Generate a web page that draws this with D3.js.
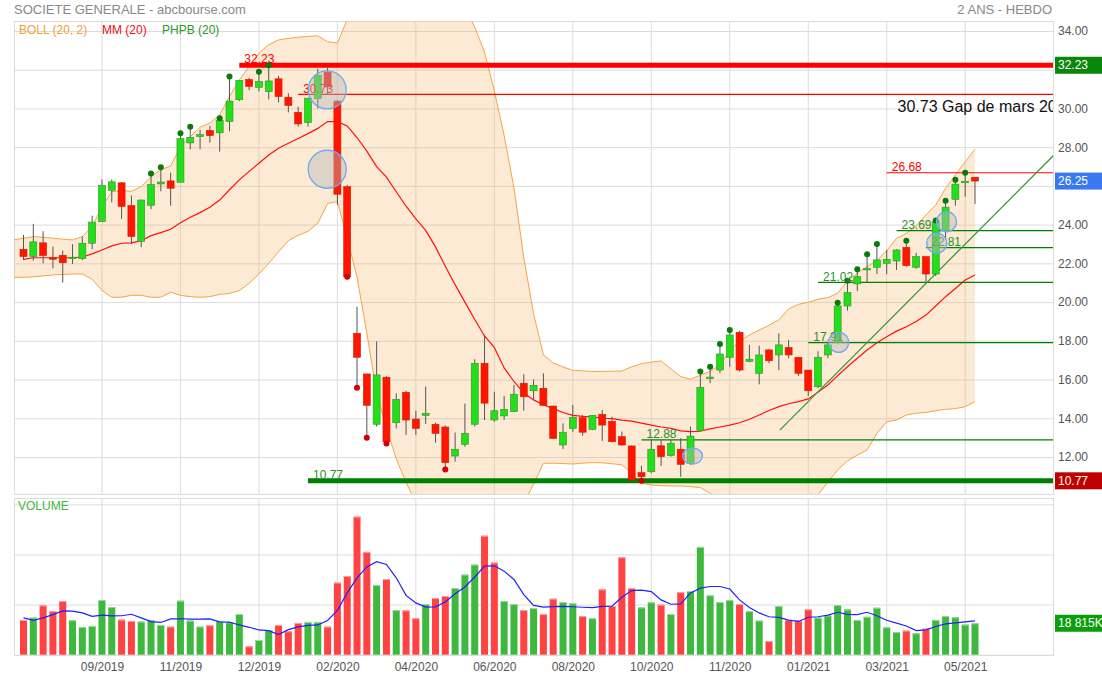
<!DOCTYPE html>
<html>
<head>
<meta charset="utf-8">
<script src="https://cdn.jsdelivr.net/npm/d3@7"></script>
<style>
  body { margin: 0; background: #fff; }
  svg { display: block; }
</style>
</head>
<body>
<svg id="chart" width="1102" height="677"></svg>
<script>
/* SOCIETE GENERALE - weekly candles, 2 years (abcbourse style) */

// ============================================
// Data (weekly bars, index 0 = first week shown)
// ============================================

const opens = [
  22.73, 22.35, 23.06, 22.29, 22.42, 22.30, 22.24, 23.04, 24.16, 25.77,
  26.16, 24.98, 23.14, 25.00, 26.10, 26.26, 26.19, 28.22, 28.55, 28.87,
  28.74, 29.32, 30.45, 31.50, 31.09, 30.87, 31.53, 30.58, 29.80, 29.27,
  30.51, 31.88, 30.38, 25.96, 18.39, 16.29, 13.69, 16.12, 13.77, 15.34,
  13.96, 14.15, 13.69, 13.55, 12.05, 12.65, 13.69, 16.84, 13.91, 14.12,
  14.34, 15.81, 15.42, 15.55, 14.63, 12.62, 13.48, 14.03, 13.43, 14.20,
  13.84, 13.05, 12.57, 11.19, 11.24, 12.58, 12.07, 12.40, 11.67, 13.36,
  16.06, 16.49, 17.15, 18.44, 16.94, 16.32, 17.53, 17.27, 17.66, 17.15,
  16.49, 15.63, 17.27, 17.91, 19.80, 20.94, 21.66, 21.80, 22.00, 22.12,
  22.83, 21.80, 22.35, 21.45, 23.69, 25.31, 26.19, 26.45
];
const highs = [
  23.47, 24.04, 23.66, 22.87, 22.66, 22.99, 23.39, 24.46, 26.33, 26.33,
  26.20, 25.50, 25.30, 26.64, 26.97, 26.68, 28.72, 29.06, 28.89, 29.10,
  29.50, 31.65, 31.45, 31.59, 31.90, 32.23, 31.68, 30.79, 30.09, 30.55,
  32.05, 32.14, 30.43, 26.05, 19.76, 16.29, 17.97, 16.17, 15.29, 15.42,
  14.39, 15.64, 13.77, 13.63, 13.26, 14.76, 17.05, 18.31, 15.37, 15.15,
  15.72, 16.27, 16.01, 16.32, 14.65, 13.74, 14.69, 14.17, 14.17, 14.43,
  14.08, 13.31, 12.60, 11.55, 12.88, 12.88, 12.88, 12.97, 13.57, 16.41,
  16.66, 17.84, 18.56, 18.52, 17.79, 17.75, 17.56, 18.39, 18.04, 17.15,
  16.49, 17.46, 17.95, 19.97, 21.10, 21.69, 22.47, 23.00, 22.69, 22.73,
  23.17, 22.55, 22.35, 24.21, 25.24, 26.32, 26.68, 26.45
];
const lows = [
  22.17, 22.14, 22.00, 21.74, 21.01, 21.97, 22.17, 22.73, 24.16, 25.15,
  24.29, 23.00, 22.83, 24.80, 25.72, 24.98, 26.19, 27.89, 27.89, 28.23,
  27.77, 28.82, 30.38, 30.94, 30.88, 30.47, 30.32, 29.80, 29.06, 29.06,
  30.00, 30.73, 25.02, 21.31, 15.58, 13.00, 13.57, 12.70, 13.48, 13.14,
  13.14, 13.70, 12.74, 11.36, 11.76, 12.53, 13.57, 13.91, 13.82, 13.91,
  14.34, 14.39, 14.98, 14.63, 12.95, 12.41, 13.31, 13.10, 13.39, 12.83,
  12.75, 12.58, 10.80, 10.77, 11.16, 11.54, 12.02, 10.98, 11.59, 13.36,
  15.81, 16.34, 16.66, 16.41, 16.89, 15.75, 16.84, 16.49, 17.10, 16.18,
  15.15, 15.55, 17.10, 17.87, 19.56, 20.57, 21.02, 21.45, 21.45, 21.66,
  21.83, 21.71, 21.05, 21.35, 23.21, 24.98, 25.44, 25.07
];
const closes = [
  22.35, 23.11, 22.40, 22.24, 22.03, 22.32, 23.04, 24.13, 26.02, 26.21,
  24.94, 23.39, 25.27, 26.07, 26.20, 25.88, 28.44, 28.51, 28.65, 28.60,
  29.39, 30.38, 31.45, 31.14, 31.40, 31.42, 30.62, 30.15, 29.20, 30.53,
  31.71, 31.11, 25.57, 21.31, 17.15, 14.67, 16.24, 12.79, 14.98, 13.91,
  13.48, 14.26, 13.22, 11.71, 12.40, 13.22, 16.84, 14.78, 14.39, 14.46,
  15.24, 15.11, 15.70, 14.67, 12.96, 13.28, 14.05, 13.28, 14.15, 13.65,
  12.79, 12.62, 10.81, 10.98, 12.40, 12.02, 12.71, 11.62, 13.08, 15.60,
  16.13, 17.32, 18.30, 16.49, 17.05, 17.27, 16.97, 17.79, 17.27, 16.32,
  15.42, 17.15, 17.79, 19.80, 20.50, 21.31, 21.74, 22.18, 22.21, 22.69,
  21.88, 22.35, 21.45, 24.15, 24.90, 26.09, 26.24, 26.25
];

// Volume in millions
const volumes = [
  20.8, 22.2, 29.5, 26.1, 32.1, 20.6, 16.6, 17.2, 32.7, 28.5,
  21.0, 20.2, 19.8, 20.8, 17.8, 16.8, 32.3, 20.4, 16.8, 17.6,
  20.2, 19.4, 24.3, 5.0, 8.8, 14.8, 17.8, 14.0, 19.0, 19.6,
  19.6, 16.8, 43.1, 47.1, 82.6, 61.5, 41.7, 45.3, 26.7, 26.5,
  21.8, 30.3, 33.9, 35.1, 39.9, 47.9, 53.9, 71.2, 55.1, 32.1,
  30.3, 26.7, 27.9, 24.3, 33.5, 31.5, 30.7, 23.1, 21.8, 39.1,
  29.1, 58.3, 39.9, 28.3, 31.3, 29.9, 24.3, 37.5, 38.1, 64.5,
  35.5, 31.5, 32.7, 30.3, 26.1, 20.4, 8.2, 29.1, 20.8, 20.4,
  27.1, 22.2, 23.5, 29.7, 27.1, 20.8, 22.7, 28.1, 16.4, 13.6,
  14.4, 12.8, 15.6, 20.8, 23.1, 22.4, 18.0, 18.8
];
// Volume moving average (blue line), millions
const volAvg = [
  22.0, 20.5, 22.0, 24.0, 26.2, 26.1, 25.0, 23.0, 23.7, 23.2,
  23.3, 24.2, 22.0, 19.8, 19.3, 21.4, 21.5, 21.3, 21.3, 21.4,
  19.6, 19.5, 17.8, 16.4, 14.8, 14.4, 12.0, 15.0, 16.6, 17.6,
  17.8, 20.5, 26.5, 37.0, 46.0, 52.5, 55.7, 54.0, 46.0, 35.5,
  31.0, 28.5, 28.6, 31.5, 36.5, 40.5, 46.5, 53.0, 53.2, 50.0,
  45.0, 36.0, 29.5, 28.5, 28.8, 28.9, 28.7, 28.4, 28.2, 28.9,
  29.0, 34.4, 38.4, 38.6, 37.8, 32.8, 30.2, 30.4, 37.0, 39.8,
  40.8, 40.8, 39.3, 32.8, 28.3, 25.0, 22.7, 22.3, 20.7, 19.9,
  22.4, 22.7, 23.7, 25.4, 24.1, 24.0, 25.4, 23.3, 20.6, 18.9,
  17.2, 14.4, 14.9, 16.9, 18.4, 19.0, 19.6, 20.2
];

// MM (20)
const mm20 = [
  22.21, 22.29, 22.29, 22.29, 22.29, 22.29, 22.33, 22.49, 22.69, 22.90,
  23.04, 23.06, 23.17, 23.43, 23.59, 23.76, 24.10, 24.38, 24.62, 24.90,
  25.27, 25.80, 26.31, 26.75, 27.17, 27.60, 27.95, 28.20, 28.45, 28.70,
  28.97, 29.32, 29.32, 29.10, 28.50, 27.80, 27.00, 26.45, 25.70, 24.95,
  24.30, 23.70, 22.85, 21.85, 20.90, 20.00, 19.10, 18.25, 17.65, 16.60,
  15.90, 15.30, 14.95, 14.70, 14.50, 14.30, 14.15, 14.10, 14.08, 14.00,
  13.98, 13.90, 13.85, 13.75, 13.65, 13.55, 13.48, 13.35, 13.31, 13.33,
  13.45, 13.55, 13.65, 13.77, 13.95, 14.17, 14.40, 14.60, 14.75, 14.86,
  15.00, 15.35, 15.72, 16.20, 16.66, 17.10, 17.53, 17.90, 18.21, 18.50,
  18.73, 19.00, 19.33, 19.80, 20.28, 20.70, 21.14, 21.40
];

// BOLL (20, 2) - first value is the week before index 0 (left edge)
const bollUpper = [
  23.21,
  23.30, 23.38, 23.35, 23.30, 23.25, 23.21, 23.38, 23.90, 24.93, 25.70,
  25.76, 25.72, 25.96, 26.48, 26.83, 27.03, 28.03, 28.54, 29.03, 29.24,
  29.67, 30.61, 31.47, 32.16, 32.85, 33.30, 33.54, 33.62, 33.68, 33.72,
  33.75, 33.45, 33.37, 34.60, 35.60, 36.40, 36.90, 37.20, 37.40, 37.50,
  37.50, 37.30, 37.00, 36.60, 36.00, 35.20, 34.20, 32.90, 30.90, 28.60,
  25.90, 22.30, 19.40, 17.27, 16.86, 16.65, 16.48, 16.45, 16.42, 16.42,
  16.43, 16.44, 16.66, 16.82, 16.90, 16.96, 16.55, 16.15, 16.02, 16.22,
  16.42, 16.75, 17.50, 18.00, 18.30, 18.56, 18.80, 19.08, 19.65, 19.88,
  19.99, 20.15, 20.23, 20.46, 21.10, 21.50, 21.83, 22.14, 22.66, 23.29,
  23.55, 23.93, 24.50, 25.02, 25.88, 26.57, 27.25, 27.89
];
const bollLower = [
  21.28,
  21.28, 21.30, 21.35, 21.40, 21.43, 21.45, 21.45, 21.18, 20.60, 20.25,
  20.25, 20.35, 20.35, 20.25, 20.25, 20.51, 20.35, 20.28, 20.25, 20.28,
  20.40, 20.45, 20.59, 20.97, 21.45, 22.00, 22.60, 23.17, 23.45, 23.65,
  24.07, 25.10, 25.19, 23.30, 21.30, 18.40, 15.30, 13.50, 11.90, 10.70,
  9.60, 8.80, 8.20, 7.80, 7.50, 7.40, 7.40, 7.50, 7.80, 8.30,
  8.90, 9.60, 10.60, 11.67, 11.68, 11.66, 11.64, 11.68, 11.71, 11.70,
  11.65, 11.60, 11.16, 10.64, 10.55, 10.52, 10.50, 10.50, 10.47, 10.42,
  10.12, 9.80, 9.50, 9.30, 9.20, 9.10, 9.10, 9.20, 9.40, 9.60,
  9.85, 10.05, 10.70, 11.33, 11.80, 12.10, 12.36, 13.22, 13.82, 13.91,
  14.17, 14.26, 14.30, 14.39, 14.46, 14.50, 14.60, 14.86
];

// PHPB (20) markers: new highs / new lows
const phpbHighIdx = [13, 14, 16, 17, 20, 21, 24, 25, 69, 70, 71, 72, 83, 84, 85, 86, 87, 90, 93, 94, 95, 96];
const phpbLowIdx = [33, 34, 35, 37, 43, 63];

// Horizontal levels drawn by the user
const levelValues = [32.23, 30.73, 26.68, 23.69, 22.81, 21.02, 17.91, 12.88, 10.77];
const levelStartIdx = [22, 28, 88, 89, 92, 81, 80, 63, 29];
const levelKind = ['top', 'gap', 'resist', 'support', 'support', 'support', 'support', 'support', 'bottom'];

// Trend line (bar index, price)
const trendIdx = [77.1, 105.06];
const trendPrice = [13.39, 27.6];

// Highlight circles (bar index, price)
const circleIdx = [30.96, 30.96, 68.2, 83.1, 94.1, 93.1];
const circlePrice = [30.96, 26.86, 12.05, 17.92, 24.15, 23.04];
const circleKind = ['big', 'big', 'flat', 'small', 'small', 'small'];

// Note
const noteText = '30.73 Gap de mars 2020';
const noteIdx = 89.1;
const notePrice = 29.8;

// Axes
const priceTicks = [12, 14, 16, 18, 20, 22, 24, 26, 28, 30, 32, 34];
const volTicks = [0, 30, 60, 90];
const volTickLabels = ['0.0000M', '30.00M', '60.00M', '90.00M'];
const gridIdx = [8, 16, 24, 32, 40, 48, 56, 64, 72, 80, 88, 96];
const monthLabels = ['09/2019', '11/2019', '12/2019', '02/2020', '04/2020', '06/2020',
  '08/2020', '10/2020', '11/2020', '01/2021', '03/2021', '05/2021'];

// Right axis marks
const markValues = [32.23, 26.25, 10.77];
const markKind = ['top', 'last', 'bottom'];
const lastVolume = 18.815;
const lastVolumeLabel = '18 815K';

// ============================================
// Layout
// ============================================

const FONT = '"Liberation Sans", Arial, Helvetica, sans-serif';
const PL = 14, PR = 1053, PT = 21, PB = 494, VT = 498, VB = 655;

const colors = {
  grid: '#dcdcdc',
  axisText: '#555',
  up: '#22df1a', upEdge: '#3a8f2c',
  down: '#ff1500', downEdge: '#cc2000',
  wick: '#555',
  volUp: '#3fb83f', volDown: '#ff4343',
  volUpTop: '#9bdc9b', volDownTop: '#ffa0a0',
  boll: '#f6a444', bollFill: 'rgba(248,180,100,0.28)',
  mm: '#ff1010',
  red: '#ff0000', green: '#008000', greenText: '#2a8f2a',
  dotUp: '#0a7a0a', dotDown: '#d00000'
};

const x = d3.scaleLinear().domain([0, 97]).range([23.5, 975]);
const y = d3.scaleLinear().domain([12, 34]).range([457, 31]);
const yv = d3.scaleLinear().domain([0, 90]).range([654.7, 504.3]);

const svg = d3.select('#chart').attr('font-family', FONT);
const defs = svg.append('defs');
defs.append('clipPath').attr('id', 'clipPrice')
  .append('rect').attr('x', PL).attr('y', PT).attr('width', PR - PL).attr('height', PB - PT);
defs.append('clipPath').attr('id', 'clipVol')
  .append('rect').attr('x', PL).attr('y', VT).attr('width', PR - PL).attr('height', VB - VT);
defs.append('clipPath').attr('id', 'clipVolAxis')
  .append('rect').attr('x', PR).attr('y', VT).attr('width', 60).attr('height', VB - VT + 2);

// ============================================
// Header
// ============================================

svg.append('text').attr('x', 14).attr('y', 13.5)
  .attr('fill', '#888').style('font-size', '13px')
  .text('SOCIETE GENERALE - abcbourse.com');
svg.append('text').attr('x', 1052).attr('y', 13.5).attr('text-anchor', 'end')
  .attr('fill', '#888').style('font-size', '13px')
  .text('2 ANS - HEBDO');

// ============================================
// Grid + axes
// ============================================

// tick labels hidden under a coloured mark box are not drawn
const covered = v => markValues.some(m => Math.abs(y(m) - y(v)) < 12);

const gPrice = svg.append('g').attr('transform', `translate(${PR},0)`)
  .call(d3.axisRight(y).tickValues(priceTicks)
    .tickFormat(d => covered(d) ? '' : d3.format('.2f')(d))
    .tickSize(-(PR - PL)).tickPadding(5));
gPrice.select('.domain').remove();
gPrice.selectAll('line').attr('stroke', colors.grid);
gPrice.attr('font-family', FONT).attr('font-size', 12);
gPrice.selectAll('text').attr('fill', colors.axisText);

const gVol = svg.append('g').attr('transform', `translate(${PR},0)`)
  .call(d3.axisRight(yv).tickValues(volTicks).tickFormat((d, i) => volTickLabels[i])
    .tickSize(-(PR - PL)).tickPadding(5));
gVol.select('.domain').remove();
gVol.selectAll('line').attr('stroke', colors.grid);
gVol.attr('font-family', FONT).attr('font-size', 12);
gVol.selectAll('text').attr('fill', colors.axisText).attr('clip-path', 'url(#clipVolAxis)');

const gV = svg.append('g').attr('stroke', colors.grid);
gV.selectAll('line.p').data(gridIdx).join('line').attr('class', 'p')
  .attr('x1', d => x(d)).attr('x2', d => x(d)).attr('y1', PT).attr('y2', PB);
gV.selectAll('line.v').data(gridIdx).join('line').attr('class', 'v')
  .attr('x1', d => x(d)).attr('x2', d => x(d)).attr('y1', VT).attr('y2', VB);

const gX = svg.append('g').attr('transform', `translate(0,${VB})`)
  .call(d3.axisBottom(x).tickValues(gridIdx).tickFormat((d, i) => monthLabels[i])
    .tickSize(0).tickPadding(7.5));
gX.select('.domain').remove();
gX.attr('font-family', FONT).attr('font-size', 12);
gX.selectAll('text').attr('fill', colors.axisText);

// panel frames
svg.append('rect').attr('x', PL + 0.5).attr('y', PT + 0.5).attr('width', PR - PL).attr('height', PB - PT)
  .attr('fill', 'none').attr('stroke', colors.grid);
svg.append('rect').attr('x', PL + 0.5).attr('y', VT + 0.5).attr('width', PR - PL).attr('height', VB - VT)
  .attr('fill', 'none').attr('stroke', colors.grid);

// ============================================
// Price panel
// ============================================

const gp = svg.append('g').attr('clip-path', 'url(#clipPrice)');

const band = bollUpper.map((u, k) => ({ i: k - 1, up: u, lo: bollLower[k] }));
gp.append('path').datum(band)
  .attr('fill', colors.bollFill)
  .attr('d', d3.area().x(d => x(d.i)).y0(d => y(d.lo)).y1(d => y(d.up)));
['up', 'lo'].forEach(key => {
  gp.append('path').datum(band)
    .attr('fill', 'none').attr('stroke', colors.boll).attr('stroke-width', 1)
    .attr('d', d3.line().x(d => x(d.i)).y(d => y(d[key])));
});

gp.append('path').datum(mm20)
  .attr('fill', 'none').attr('stroke', colors.mm).attr('stroke-width', 1.2)
  .attr('d', d3.line().x((d, i) => x(i)).y(d => y(d)));

// levels
const levelStyle = {
  top: { stroke: colors.red, width: 5, text: colors.red },
  gap: { stroke: colors.red, width: 1.2, text: colors.red },
  resist: { stroke: colors.red, width: 1.2, text: colors.red },
  support: { stroke: colors.green, width: 1.2, text: colors.greenText },
  bottom: { stroke: colors.green, width: 5, text: colors.greenText }
};
const levels = levelValues.map((v, k) => ({ v, start: levelStartIdx[k], kind: levelKind[k] }));
gp.selectAll('line.level').data(levels).join('line').attr('class', 'level')
  .attr('x1', d => x(d.start)).attr('x2', PR)
  .attr('y1', d => y(d.v)).attr('y2', d => y(d.v))
  .attr('stroke', d => levelStyle[d.kind].stroke)
  .attr('stroke-width', d => levelStyle[d.kind].width);

// trend line
gp.append('line')
  .attr('x1', x(trendIdx[0])).attr('y1', y(trendPrice[0]))
  .attr('x2', x(trendIdx[1])).attr('y2', y(trendPrice[1]))
  .attr('stroke', '#3a9a3a').attr('stroke-width', 1.3);

// candles
const candles = opens.map((o, i) => ({ i, o, h: highs[i], l: lows[i], c: closes[i] }));
const gc = gp.append('g');
gc.selectAll('line.wick').data(candles).join('line').attr('class', 'wick')
  .attr('x1', d => x(d.i)).attr('x2', d => x(d.i))
  .attr('y1', d => y(d.h)).attr('y2', d => y(d.l))
  .attr('stroke', colors.wick).attr('stroke-width', 1);
gc.selectAll('rect.body').data(candles).join('rect').attr('class', 'body')
  .attr('x', d => x(d.i) - 3.5).attr('width', 7)
  .attr('y', d => y(Math.max(d.o, d.c)))
  .attr('height', d => Math.max(1.5, Math.abs(y(d.o) - y(d.c))))
  .attr('fill', d => d.c >= d.o ? colors.up : colors.down)
  .attr('stroke', d => d.c >= d.o ? colors.upEdge : colors.downEdge)
  .attr('stroke-width', 0.6);

// PHPB dots
gp.selectAll('circle.hi').data(phpbHighIdx).join('circle').attr('class', 'hi')
  .attr('cx', d => x(d)).attr('cy', d => y(highs[d])).attr('r', 3)
  .attr('fill', colors.dotUp);
gp.selectAll('circle.lo').data(phpbLowIdx).join('circle').attr('class', 'lo')
  .attr('cx', d => x(d)).attr('cy', d => y(lows[d])).attr('r', 3)
  .attr('fill', colors.dotDown);

// level labels
gp.selectAll('text.level').data(levels).join('text').attr('class', 'level')
  .attr('x', d => x(d.start) + 5).attr('y', d => y(d.v) - 1.8)
  .attr('fill', d => levelStyle[d.kind].text)
  .style('font-size', '12px')
  .text(d => d.v.toFixed(2));

// note
gp.append('text').attr('x', x(noteIdx)).attr('y', y(notePrice))
  .attr('fill', '#111').style('font-size', '16px')
  .text(noteText);

// circles
const circleSize = { big: [19, 19], flat: [10, 8], small: [10, 10] };
const circles = circleIdx.map((ci, k) => ({ i: ci, p: circlePrice[k], kind: circleKind[k] }));
gp.selectAll('ellipse.mark').data(circles).join('ellipse').attr('class', 'mark')
  .attr('cx', d => x(d.i)).attr('cy', d => y(d.p))
  .attr('rx', d => circleSize[d.kind][0]).attr('ry', d => circleSize[d.kind][1])
  .attr('fill', 'rgba(185,185,185,0.45)')
  .attr('stroke', '#6eaaf2').attr('stroke-width', 1.3);

// legend
const legend = [
  { t: 'BOLL (20, 2)', c: '#f5a033', x: 19 },
  { t: 'MM (20)', c: '#ee1111', x: 102 },
  { t: 'PHPB (20)', c: '#2a9a2a', x: 162 }
];
svg.selectAll('text.legend').data(legend).join('text').attr('class', 'legend')
  .attr('x', d => d.x).attr('y', 33.5)
  .attr('fill', d => d.c).style('font-size', '12px')
  .text(d => d.t);

// ============================================
// Volume panel
// ============================================

const gvb = svg.append('g').attr('clip-path', 'url(#clipVol)');
const vols = volumes.map((v, i) => ({
  i, v,
  up: i === 0 ? closes[0] >= opens[0] : closes[i] >= closes[i - 1]
}));
gvb.selectAll('rect.vol').data(vols).join('rect').attr('class', 'vol')
  .attr('x', d => x(d.i) - 3.5).attr('width', 7)
  .attr('y', d => yv(d.v)).attr('height', d => yv(0) - yv(d.v))
  .attr('fill', d => d.up ? colors.volUp : colors.volDown);
gvb.selectAll('line.voltop').data(vols).join('line').attr('class', 'voltop')
  .attr('x1', d => x(d.i) - 3.5).attr('x2', d => x(d.i) + 3.5)
  .attr('y1', d => yv(d.v) + 0.5).attr('y2', d => yv(d.v) + 0.5)
  .attr('stroke', d => d.up ? colors.volUpTop : colors.volDownTop);
gvb.append('path').datum(volAvg)
  .attr('fill', 'none').attr('stroke', '#2020ff').attr('stroke-width', 1.2)
  .attr('d', d3.line().x((d, i) => x(i)).y(d => yv(d)));

svg.append('text').attr('x', 18).attr('y', 509.5)
  .attr('fill', '#3cb83c').style('font-size', '12px').text('VOLUME');

// ============================================
// Right axis marks
// ============================================

const markColor = { top: '#0a860a', last: '#3a78f2', bottom: '#c00000' };
const marks = markValues.map((v, k) => ({ y: y(v), label: v.toFixed(2), c: markColor[markKind[k]] }));
marks.push({ y: yv(lastVolume), label: lastVolumeLabel, c: '#0a9e0a' });

const gm = svg.append('g');
gm.selectAll('rect').data(marks).join('rect')
  .attr('x', PR + 2).attr('y', d => d.y - 8.5).attr('width', 1102 - PR - 2).attr('height', 17)
  .attr('fill', d => d.c);
gm.selectAll('text').data(marks).join('text')
  .attr('x', PR + 5).attr('y', d => d.y).attr('dy', '0.35em')
  .attr('fill', '#fff').style('font-size', '12px')
  .text(d => d.label);
</script>
</body>
</html>
